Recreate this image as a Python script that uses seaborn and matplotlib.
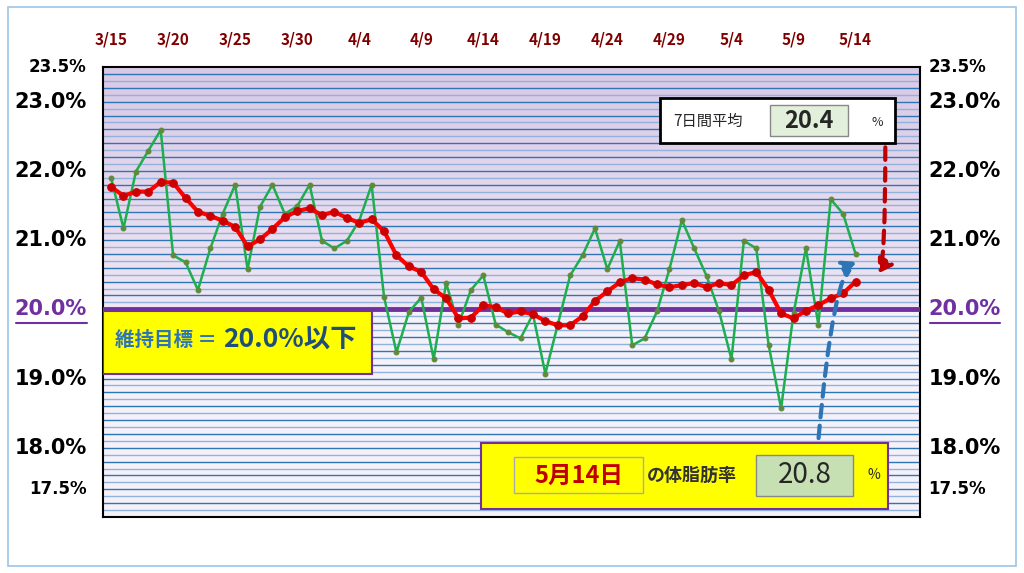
import numpy as np
import pandas as pd
import matplotlib
matplotlib.use("Agg")
import matplotlib.pyplot as plt
import seaborn as sns
from matplotlib.patches import Rectangle, FancyArrowPatch
from matplotlib.colors import LinearSegmentedColormap

sns.set_theme(style="white")
plt.rcParams['font.family'] = ['Noto Sans CJK JP', 'DejaVu Sans']

day_labels = ["3/15","3/20","3/25","3/30","4/4","4/9","4/14","4/19","4/24","4/29","5/4","5/9","5/14"]
body_fat = [21.90,21.17,21.99,22.29,22.59,20.78,20.68,20.28,20.88,21.38,21.80,20.58,21.48,21.80,21.38,21.49,
            21.80,20.99,20.88,20.99,21.28,21.80,20.18,19.38,19.96,20.17,19.28,20.38,19.78,20.28,20.49,19.78,
            19.67,19.58,19.93,19.07,19.78,20.49,20.78,21.17,20.58,20.99,19.48,19.58,19.97,20.58,21.29,20.88,
            20.48,19.97,19.28,20.99,20.88,19.48,18.57,19.94,20.88,19.78,21.59,21.38,20.8]
avg7 = [21.77,21.64,21.70,21.70,21.84,21.83,21.61,21.41,21.35,21.28,21.19,20.91,21.01,21.16,21.33,21.42,
        21.46,21.36,21.41,21.32,21.25,21.30,21.13,20.78,20.62,20.54,20.29,20.16,19.87,19.88,20.06,20.03,
        19.94,19.97,19.93,19.83,19.77,19.77,19.90,20.12,20.26,20.39,20.45,20.43,20.36,20.32,20.35,20.38,
        20.32,20.38,20.35,20.49,20.54,20.28,19.94,19.87,19.98,20.06,20.16,20.23,20.4]
target = 20.0
ytick_vals = [23.5, 23.0, 22.0, 21.0, 20.0, 19.0, 18.0, 17.5]

df = pd.DataFrame({"day": np.arange(len(body_fat)), "fat": body_fat, "avg": avg7})

fig = plt.figure(figsize=(10.24, 5.73), dpi=100)
fig.patch.set_facecolor("white")
fig.add_artist(Rectangle((0.008, 0.012), 0.984, 0.976, transform=fig.transFigure,
                         fill=False, ec="#9dc3e6", lw=1.2))
ax = fig.add_axes([0.1006, 0.0977, 0.7979, 0.7853])
xl = (-0.65, 65.2)
ax.set_xlim(*xl); ax.set_ylim(17.0, 23.5)

grad = np.linspace(0, 1, 100).reshape(-1, 1)
cm = LinearSegmentedColormap.from_list("g", ["#efe7f4", "#d8c8e4"])
ax.imshow(grad, extent=(xl[0], xl[1], 20.0, 23.5), origin="lower", cmap=cm, aspect="auto", zorder=0)
ax.add_patch(Rectangle((xl[0], 17.0), xl[1]-xl[0], 3.0, color="#f5f1f9", zorder=0))
for i, yv in enumerate(np.arange(17.1, 23.5, 0.1)):
    ax.axhline(yv, color="#2e75b6" if i % 2 else "#8fb3dd", lw=1.0, zorder=1)
ax.axhline(target, color="#7030a0", lw=3.5, zorder=3)

sns.lineplot(data=df, x="day", y="fat", ax=ax, color="#1fae4f", lw=1.8, marker="o", ms=3.5,
             mec="#5f8a3a", mfc="#5f8a3a", zorder=4)
sns.lineplot(data=df, x="day", y="avg", ax=ax, color="#ff0000", lw=3, marker="o", ms=5.5,
             mec="#cc0000", mfc="#cc0000", zorder=5)

ax.set_xlabel(""); ax.set_ylabel("")
ax.set_yticks([]); ax.set_xticks(np.arange(0, 61, 5))
ax.set_xticklabels(day_labels, color="#800000", fontsize=11, fontweight="bold")
ax.xaxis.tick_top(); ax.tick_params(axis="x", length=0, pad=14)
for s in ax.spines.values():
    s.set_color("black"); s.set_linewidth(1.5)

for v in ytick_vals:
    small = v in (23.5, 17.5)
    col = "#7030a0" if v == 20.0 else "black"
    fs = 12 if small else 15
    yy = 17.4 if v == 17.5 else v
    for xx, ha in ((-0.02, "right"), (1.01, "left")):
        ax.text(xx, yy, f"{v:.1f}%", transform=ax.get_yaxis_transform(),
                ha=ha, va="center", fontsize=fs, fontweight="bold", color=col, fontfamily="DejaVu Sans")
for x0, x1 in ((0.016, 0.085), (0.908, 0.977)):
    fig.add_artist(plt.Line2D([x0, x1], [0.437, 0.437], color="#7030a0", lw=1.5))

# target box
ax.add_patch(Rectangle((-0.65, 19.07), 21.7, 0.9, fc="#ffff00", ec="#7030a0", lw=1.5, zorder=6))
ax.text(0.3, 19.55, "維持目標 ＝ ", fontsize=14, fontweight="bold", color="#2e75b6", va="center", zorder=7)
ax.text(9.0, 19.55, "20.0%以下", fontsize=19, fontweight="bold", color="#1f4e79", va="center", zorder=7)

# 7-day box
ax.add_patch(Rectangle((44.2, 22.4), 19.0, 0.65, fc="white", ec="black", lw=2, zorder=6))
ax.text(45.3, 22.72, "7日間平均", fontsize=11, va="center", zorder=7)
ax.add_patch(Rectangle((53.1, 22.5), 6.3, 0.45, fc="#e2efda", ec="#888888", lw=1, zorder=7))
ax.text(56.25, 22.72, "20.4", fontsize=17, fontweight="bold", ha="center", va="center", zorder=8)
ax.text(61.3, 22.7, "%", fontsize=9, va="center", zorder=7)

# today box
ax.add_patch(Rectangle((29.8, 17.12), 32.8, 0.95, fc="#ffff00", ec="#7030a0", lw=1.5, zorder=6))
ax.add_patch(Rectangle((32.5, 17.35), 10.4, 0.52, fc="#ffff00", ec="#aaaaaa", lw=1, zorder=7))
ax.text(37.7, 17.6, "5月14日", fontsize=17, fontweight="bold", color="#c00000", ha="center", va="center", zorder=8)
ax.text(43.2, 17.6, "の体脂肪率", fontsize=13, fontweight="bold", color="#333333", va="center", zorder=8)
ax.add_patch(Rectangle((52.0, 17.3), 7.8, 0.6, fc="#c6e0b4", ec="#888888", lw=1, zorder=7))
ax.text(55.9, 17.6, "20.8", fontsize=20, ha="center", va="center", zorder=8)
ax.text(61.0, 17.6, "%", fontsize=10, va="center", zorder=8)

# arrows
ax.add_patch(FancyArrowPatch((57.0, 18.1), (60.3, 20.7), connectionstyle="angle3,angleA=85,angleB=10",
                             arrowstyle="-|>,head_length=8,head_width=5", color="#2e75b6",
                             lw=3, ls=(0, (3, 2)), zorder=6))
ax.add_patch(FancyArrowPatch((62.4, 22.38), (61.6, 20.5), connectionstyle="angle3,angleA=-90,angleB=-30",
                             arrowstyle="-|>,head_length=8,head_width=5", color="#c00000",
                             lw=3, ls=(0, (3, 2)), zorder=6))

fig.savefig("out.png", dpi=100)
